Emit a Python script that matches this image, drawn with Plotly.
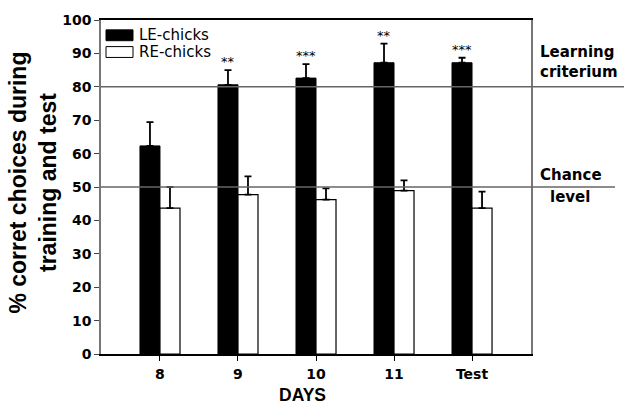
import plotly.graph_objects as go

days = ["8", "9", "10", "11", "Test"]
le_vals = [62.3, 80.6, 82.6, 87.2, 87.2]
le_err_top = [69.4, 85.0, 86.8, 92.9, 88.7]
re_vals = [43.7, 47.7, 46.2, 48.9, 43.7]
re_err_top = [50.0, 53.2, 49.6, 52.0, 48.6]
stars = ["", "**", "***", "**", "***"]
y_ticks = list(range(0, 101, 10))
learning_level = 80
chance_level = 50

le_up = [t - v for t, v in zip(le_err_top, le_vals)]
re_up = [t - v for t, v in zip(re_err_top, re_vals)]

TICKFONT = dict(family="DejaVu Sans", size=14, color="black", weight="bold")

fig = go.Figure()
fig.add_trace(go.Bar(
    x=days, y=le_vals, name="LE-chicks",
    marker=dict(color="black", line=dict(color="black", width=1)),
    error_y=dict(type="data", symmetric=False, array=le_up, arrayminus=[0] * 5,
                 color="black", thickness=1.8, width=3.5),
))
fig.add_trace(go.Bar(
    x=days, y=re_vals, name="RE-chicks",
    marker=dict(color="white", line=dict(color="black", width=1.2)),
    error_y=dict(type="data", symmetric=False, array=re_up, arrayminus=[0] * 5,
                 color="black", thickness=1.8, width=3.5),
))

fig.update_layout(
    width=624, height=410,
    margin=dict(l=101, r=93, t=15, b=56),
    paper_bgcolor="white", plot_bgcolor="white",
    barmode="group", bargap=0.487, bargroupgap=0,
    showlegend=False,
    font=dict(family="Liberation Sans, Arial", color="black"),
)
fig.update_xaxes(
    type="category", range=[-0.756, 4.756],
    showline=True, linecolor="black", linewidth=1.5, mirror=True,
    ticks="outside", ticklen=5, tickcolor="black", tickwidth=1.2,
    tickfont=TICKFONT, showgrid=False, zeroline=False,
    ticklabelstandoff=1,
)
fig.update_yaxes(
    range=[0, 100], tickvals=y_ticks,
    showline=True, linecolor="#777777", linewidth=1.5, mirror=True,
    ticks="outside", ticklen=5, tickcolor="#444444", tickwidth=1.2,
    tickfont=TICKFONT, showgrid=False, zeroline=False,
)

# reference lines extending past the plot area
fig.add_shape(type="line", xref="paper", yref="y", x0=0, x1=(624 - 101) / 430,
              y0=learning_level, y1=learning_level, line=dict(color="#666666", width=1.5))
fig.add_shape(type="line", xref="paper", yref="y", x0=0, x1=(615 - 101) / 430,
              y0=chance_level, y1=chance_level, line=dict(color="#666666", width=1.5))

# significance stars above LE bars
for i, s in enumerate(stars):
    if s:
        fig.add_annotation(x=i - 0.128, y=le_err_top[i], xref="x", yref="y", text=s,
                           showarrow=False, yanchor="bottom", yshift=-1,
                           font=dict(family="DejaVu Sans", size=13, color="black"))

# legend drawn inside the plot
fig.add_shape(type="rect", xref="paper", yref="paper",
              x0=(106 - 101) / 430, x1=(133 - 101) / 430,
              y0=(354 - 36) / 339, y1=(354 - 25) / 339,
              fillcolor="black", line=dict(color="black", width=1))
fig.add_shape(type="rect", xref="paper", yref="paper",
              x0=(106 - 101) / 430, x1=(133 - 101) / 430,
              y0=(354 - 53) / 339, y1=(354 - 42) / 339,
              fillcolor="white", line=dict(color="black", width=1))
fig.add_annotation(x=(137 - 101) / 430, y=(354 - 30.5) / 339, xref="paper", yref="paper",
                   text="LE-chicks", showarrow=False, xanchor="left", yanchor="middle",
                   font=dict(family="DejaVu Sans", size=15, color="black"))
fig.add_annotation(x=(137 - 101) / 430, y=(354 - 47.5) / 339, xref="paper", yref="paper",
                   text="RE-chicks", showarrow=False, xanchor="left", yanchor="middle",
                   font=dict(family="DejaVu Sans", size=15, color="black"))

SIDEFONT = dict(family="DejaVu Sans", size=15, color="black", weight="bold")
fig.add_annotation(x=(538 - 101) / 430, y=(354 - 57.5) / 339, xref="paper", yref="paper",
                   text="Learning<br>criterium", showarrow=False, xanchor="left",
                   yanchor="middle", align="left", font=SIDEFONT)
fig.add_annotation(x=(538 - 101) / 430, y=(354 - 172) / 339, xref="paper", yref="paper",
                   text="Chance", showarrow=False, xanchor="left", yanchor="middle",
                   font=SIDEFONT)
fig.add_annotation(x=(548 - 101) / 430, y=(354 - 195) / 339, xref="paper", yref="paper",
                   text="level", showarrow=False, xanchor="left", yanchor="middle",
                   font=SIDEFONT)

# axis titles
fig.add_annotation(x=(33 - 101) / 430, y=(354 - 180) / 339, xref="paper", yref="paper",
                   text="% corret choices during<br>training and test", showarrow=False,
                   textangle=-90, xanchor="center", yanchor="middle",
                   font=dict(family="Liberation Sans, Arial", size=23, color="black",
                             weight="bold"))
fig.add_annotation(x=(302 - 101) / 430, y=(354 - 396) / 339, xref="paper", yref="paper",
                   text="DAYS", showarrow=False, xanchor="center", yanchor="middle",
                   font=dict(family="Liberation Sans, Arial", size=17.5, color="black",
                             weight="bold"))

fig.write_html("out.html", config={"displayModeBar": False},
               post_script="document.body.style.margin='0';document.body.style.padding='0';")
